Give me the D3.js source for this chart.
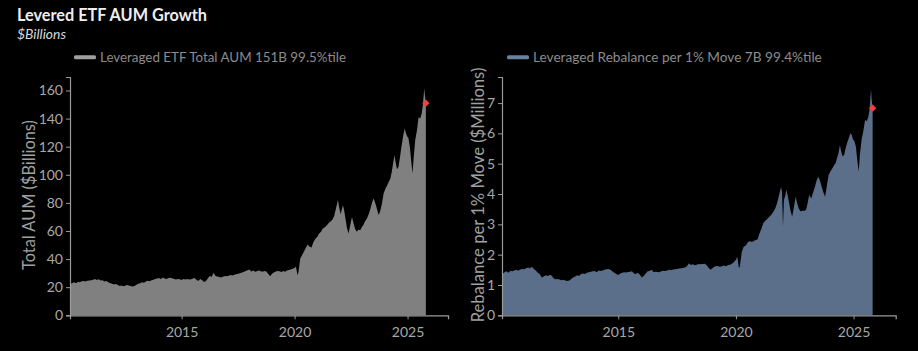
<!DOCTYPE html>
<html><head><meta charset="utf-8">
<script src="https://cdn.jsdelivr.net/npm/d3@7"></script>
<style>html,body{margin:0;padding:0;background:#000;}svg{display:block;}</style>
</head><body>
<svg id="c" width="918" height="351"></svg>
<script>
// ---- data (decimal years) ----
const t = [2010.06,2010.10,2010.17,2010.25,2010.33,2010.42,2010.50,2010.58,2010.67,2010.75,2010.83,2010.92,
2011.00,2011.08,2011.17,2011.25,2011.33,2011.42,2011.50,2011.58,2011.67,2011.75,2011.83,2011.92,
2012.00,2012.08,2012.17,2012.25,2012.33,2012.42,2012.50,2012.58,2012.67,2012.75,2012.83,2012.92,
2013.00,2013.08,2013.17,2013.25,2013.33,2013.42,2013.50,2013.58,2013.67,2013.75,2013.83,2013.92,
2014.00,2014.08,2014.17,2014.25,2014.33,2014.42,2014.50,2014.58,2014.67,2014.75,2014.83,2014.92,
2015.00,2015.08,2015.17,2015.25,2015.33,2015.42,2015.50,2015.58,2015.67,2015.75,2015.83,2015.92,
2016.00,2016.08,2016.17,2016.25,2016.33,2016.42,2016.50,2016.58,2016.67,2016.75,2016.83,2016.92,
2017.00,2017.08,2017.17,2017.25,2017.33,2017.42,2017.50,2017.58,2017.67,2017.75,2017.83,2017.92,
2018.00,2018.08,2018.17,2018.25,2018.33,2018.42,2018.50,2018.58,2018.67,2018.75,2018.83,2018.92,
2019.00,2019.08,2019.17,2019.25,2019.33,2019.42,2019.50,2019.58,2019.67,2019.75,2019.83,2019.92,
2020.00,2020.06,2020.13,2020.17,2020.25,2020.33,2020.42,2020.50,2020.58,2020.67,2020.75,2020.83,2020.92,
2021.00,2021.08,2021.17,2021.25,2021.33,2021.42,2021.50,2021.58,2021.67,2021.75,2021.83,2021.92,2021.96,
2022.00,2022.04,2022.10,2022.14,2022.20,2022.26,2022.32,2022.39,2022.46,2022.54,2022.60,2022.68,2022.76,2022.83,2022.90,2022.98,
2023.05,2023.11,2023.20,2023.28,2023.36,2023.43,2023.50,2023.57,2023.64,2023.72,2023.79,2023.86,2023.94,
2024.02,2024.10,2024.17,2024.24,2024.30,2024.36,2024.42,2024.46,2024.53,2024.60,2024.66,2024.73,2024.80,2024.87,2024.92,2024.98,
2025.04,2025.10,2025.16,2025.22,2025.27,2025.34,2025.42,2025.49,2025.56,2025.63,2025.68,2025.74,2025.77,2025.81];

const totalAUM = [21.4,22.5,23.0,23.6,22.8,23.8,23.5,24.2,24.5,24.0,24.6,24.8,
25.0,25.3,25.8,25.2,25.6,24.8,25.0,24.0,24.5,23.5,23.0,22.5,
22.0,22.3,21.8,20.8,21.2,20.6,21.0,21.5,21.2,20.8,20.5,20.9,
21.8,22.5,22.8,23.6,23.2,24.0,24.6,24.2,25.0,25.3,25.8,26.2,
26.5,25.8,26.9,26.2,25.9,26.5,26.8,26.4,25.8,25.4,25.9,25.6,
25.2,25.8,25.5,25.9,25.4,25.6,26.2,26.6,25.0,24.6,25.8,24.8,
23.7,24.5,26.5,28.0,27.5,30.2,28.0,27.6,27.2,26.9,27.5,28.0,
27.8,28.2,28.6,28.3,28.8,29.2,29.6,30.0,30.4,30.8,31.5,32.0,
32.6,31.2,31.8,31.0,31.4,31.8,31.4,31.0,31.6,31.2,29.5,27.8,
29.5,30.5,31.2,31.6,31.4,30.8,31.5,31.0,31.8,32.2,32.6,33.2,
33.7,34.8,28.5,30.5,40.4,42.8,45.5,48.0,50.4,48.7,48.2,52.0,54.5,
55.8,58.0,59.5,61.8,62.5,64.0,65.5,66.5,68.0,70.5,76.0,82.0,78.0,
74.8,72.0,76.0,78.4,74.0,68.0,62.0,58.2,64.0,70.0,66.0,61.5,59.4,61.0,60.5,62.9,
64.5,66.5,68.9,72.0,76.0,80.5,83.2,80.0,76.0,71.3,74.0,79.0,86.7,
90.0,92.5,95.0,97.4,102.0,108.0,114.0,110.0,104.0,105.7,112.0,120.0,127.0,133.0,130.0,127.5,
126.0,120.0,110.0,101.0,112.0,124.7,132.0,141.0,140.0,143.8,150.0,161.6,156.0,151.0];

const rebalance = [1.28,1.38,1.42,1.45,1.40,1.47,1.45,1.48,1.50,1.47,1.51,1.53,
1.52,1.55,1.58,1.54,1.60,1.52,1.48,1.40,1.35,1.25,1.28,1.32,
1.30,1.33,1.31,1.22,1.19,1.20,1.18,1.16,1.17,1.15,1.13,1.15,
1.20,1.25,1.28,1.32,1.30,1.36,1.38,1.36,1.40,1.42,1.44,1.45,
1.46,1.42,1.48,1.46,1.48,1.50,1.52,1.53,1.50,1.45,1.40,1.36,
1.33,1.38,1.40,1.42,1.41,1.43,1.44,1.45,1.38,1.36,1.40,1.34,
1.25,1.30,1.38,1.45,1.46,1.50,1.42,1.44,1.43,1.42,1.45,1.47,
1.46,1.48,1.50,1.49,1.51,1.52,1.53,1.54,1.55,1.56,1.58,1.62,
1.72,1.66,1.68,1.65,1.67,1.69,1.68,1.69,1.70,1.66,1.58,1.50,
1.55,1.60,1.63,1.62,1.60,1.62,1.64,1.62,1.66,1.67,1.70,1.76,
1.83,1.93,1.55,1.62,2.10,2.26,2.30,2.40,2.45,2.42,2.44,2.48,2.50,
2.70,2.85,3.05,3.12,3.18,3.25,3.32,3.40,3.52,3.70,3.95,4.24,4.05,
2.92,3.80,3.95,4.14,3.95,3.70,3.45,3.25,3.55,3.91,3.70,3.50,3.42,3.46,3.44,3.48,
3.70,3.97,3.85,4.05,4.25,4.45,4.57,4.45,4.25,4.05,3.91,4.25,4.63,
4.75,4.85,4.95,5.02,5.20,5.35,5.62,5.45,5.25,5.29,5.50,5.70,5.85,6.01,5.95,5.80,
5.73,5.55,5.10,4.74,5.30,5.79,6.10,6.45,6.40,6.55,6.80,7.46,7.10,6.83];

const leftYTicks = [0,20,40,60,80,100,120,140,160];
const rightYTicks = [0,1,2,3,4,5,6,7];
const xTickYears = [2015,2020,2025];

const titleText = "Levered ETF AUM Growth";
const subtitleText = "$Billions";
const leftLegend = "Leveraged ETF Total AUM 151B 99.5%tile";
const rightLegend = "Leveraged Rebalance per 1% Move 7B 99.4%tile";
const leftYLabel = "Total AUM ($Billions)";
const rightYLabel = "Rebalance per 1% Move ($Millions)";

// ---- drawing ----
const FONT = "Lato, 'Open Sans', sans-serif";
const svg = d3.select("#c");
svg.append("rect").attr("width",918).attr("height",351).attr("fill","#000");

function fit(sel, target){
  const n = sel.node(); const fs = parseFloat(sel.attr("font-size"));
  const w = n.getComputedTextLength();
  if (w>0) sel.attr("font-size", (fs*target/w).toFixed(2));
  return sel;
}

fit(svg.append("text").attr("x",17).attr("y",21).attr("font-family",FONT).attr("font-weight","bold")
  .attr("font-size",15).attr("fill","#eeeeee").text(titleText), 190);
fit(svg.append("text").attr("x",17).attr("y",38.5).attr("font-family",FONT).attr("font-style","italic")
  .attr("font-size",12).attr("fill","#d8d8d8").text(subtitleText), 49);

const data = t.map((d,i)=>({t:d, a:totalAUM[i], r:rebalance[i]}));

const panels = [
  {key:"a", x0:70, x1:448, yBot:315.3, yTop:77, yMax:169.6, ticks:leftYTicks, fill:"#808080", swatch:"#a0a0a0",
   legend:leftLegend, legX:74, legW:246, label:leftYLabel, labX:28, labY:195, labW:150},
  {key:"r", x0:502, x1:895.7, yBot:315.3, yTop:77, yMax:7.86, ticks:rightYTicks, fill:"#5b6e8a", swatch:"#6a80a0",
   legend:rightLegend, legX:507, legW:289, label:rightYLabel, labX:478, labY:195, labW:255}
];

panels.forEach(p=>{
  const x = d3.scaleLinear().domain([2010.06, 2026.79]).range([p.x0, p.x1]);
  const y = d3.scaleLinear().domain([0, p.yMax]).range([p.yBot, p.yTop]);
  const g = svg.append("g");

  const area = d3.area().x(d=>x(d.t)).y0(y(0)).y1(d=>y(d[p.key]));
  g.append("path").datum(data).attr("d",area).attr("fill",p.fill);

  const yAxis = g.append("g").attr("transform",`translate(${p.x0},0)`)
    .call(d3.axisLeft(y).tickValues(p.ticks).tickSize(4).tickPadding(3).tickFormat(d3.format("d")));
  const xAxis = g.append("g").attr("transform",`translate(0,${p.yBot})`)
    .call(d3.axisBottom(x).tickValues(xTickYears).tickSize(4).tickPadding(8).tickFormat(d3.format("d")));
  [yAxis,xAxis].forEach(a=>{
    a.select(".domain").attr("stroke","#9a9a9a").attr("stroke-width",1.2);
    a.selectAll(".tick line").attr("stroke","#9a9a9a");
    a.selectAll(".tick text").attr("fill","#a8a8a8").attr("font-family",FONT).attr("font-size",14);
  });

  const last = data[data.length-1];
  g.append("path").attr("d", d3.symbol(d3.symbolSquare, 26)())
    .attr("transform",`translate(${x(last.t)},${y(last[p.key])}) rotate(45)`).attr("fill","#ff3b3b");

  // legend
  g.append("rect").attr("x",p.legX).attr("y",55.3).attr("width",22).attr("height",4).attr("rx",1.5).attr("fill",p.swatch);
  fit(g.append("text").attr("x",p.legX+26).attr("y",62).attr("font-family",FONT).attr("font-size",13)
    .attr("fill","#8c8c8c").text(p.legend), p.legW);

  // y label
  fit(g.append("text").attr("transform",`translate(${p.labX},${p.labY}) rotate(-90)`).attr("text-anchor","middle")
    .attr("dominant-baseline","central").attr("font-family",FONT).attr("font-size",15).attr("fill","#a0a0a0").text(p.label), p.labW);
});
</script>
</body></html>
